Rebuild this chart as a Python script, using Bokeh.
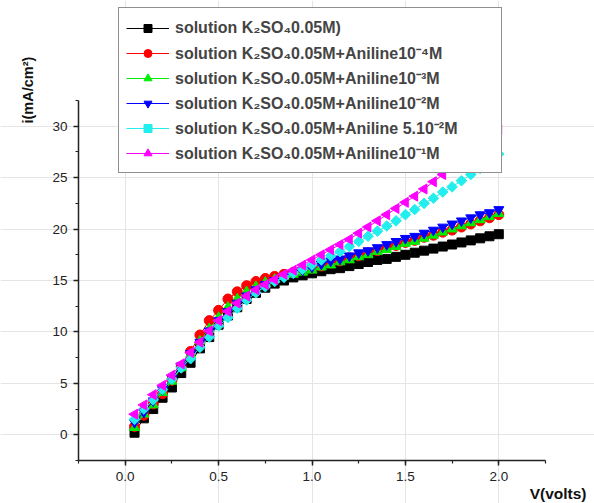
import math
from bokeh.plotting import figure
from bokeh.models import Legend, LegendItem, Label, SingleIntervalTicker, Range1d, LinearAxis
from bokeh.embed import file_html
from bokeh.resources import INLINE

V = [round(0.05 * k, 2) for k in range(1, 41)]

black = [0.2, 1.6, 2.5, 3.6, 4.6, 6.0, 7.0, 8.4, 9.5, 10.7, 11.6, 12.4, 13.2, 13.8, 14.3, 14.7, 15.0, 15.3, 15.5, 15.7,
         15.9, 16.1, 16.2, 16.4, 16.6, 16.8, 17.0, 17.1, 17.3, 17.5, 17.7, 17.9, 18.1, 18.3, 18.5, 18.7, 18.9, 19.1, 19.3, 19.5]
red = [0.8, 1.9, 3.0, 4.0, 5.3, 6.6, 8.1, 9.7, 11.1, 12.1, 13.2, 13.9, 14.5, 14.9, 15.2, 15.4, 15.6, 15.8, 16.0, 16.2,
       16.4, 16.7, 16.9, 17.2, 17.4, 17.7, 17.9, 18.2, 18.4, 18.7, 18.9, 19.2, 19.4, 19.7, 19.9, 20.2, 20.5, 20.8, 21.1, 21.4]
green = [0.7, 2.0, 2.9, 4.1, 5.2, 6.5, 7.8, 9.1, 10.3, 11.4, 12.4, 13.2, 13.9, 14.4, 14.8, 15.1, 15.4, 15.6, 15.8, 16.0,
         16.3, 16.5, 16.8, 17.0, 17.3, 17.5, 17.8, 18.0, 18.3, 18.6, 18.8, 19.1, 19.4, 19.7, 20.0, 20.3, 20.6, 20.9, 21.2, 21.5]
blue = [1.2, 2.2, 3.3, 4.4, 5.5, 6.7, 7.9, 9.0, 10.1, 11.1, 12.0, 12.8, 13.5, 14.1, 14.6, 15.0, 15.4, 15.7, 16.0, 16.3,
        16.6, 16.9, 17.1, 17.4, 17.7, 17.9, 18.2, 18.5, 18.8, 19.1, 19.3, 19.6, 19.9, 20.2, 20.5, 20.8, 21.1, 21.4, 21.6, 21.9]
cyan = [1.5, 2.5, 3.4, 4.4, 5.4, 6.5, 7.4, 8.5, 9.5, 10.6, 11.4, 12.3, 13.1, 13.8, 14.4, 14.9, 15.3, 15.7, 16.1, 16.5,
        17.0, 17.4, 17.8, 18.3, 18.8, 19.3, 19.8, 20.3, 20.8, 21.4, 21.9, 22.5, 23.0, 23.6, 24.1, 24.7, 25.3, 25.9, 26.6, 27.3]
magenta = [2.0, 2.9, 3.9, 4.8, 5.8, 6.9, 8.0, 9.0, 10.1, 11.1, 12.0, 12.8, 13.5, 14.1, 14.6, 15.1, 15.6, 16.0, 16.5, 17.0,
           17.5, 18.0, 18.5, 19.0, 19.6, 20.2, 20.8, 21.4, 22.0, 22.6, 23.2, 23.9, 24.6, 25.3, 26.0, 26.7, 27.4, 28.1, 28.9, 29.7]

labels = [
    "solution K\u2082SO\u20840.05M)",
    "solution K\u2082SO\u20840.05M+Aniline10\u207b\u2074M",
    "solution K\u2082SO\u20840.05M+Aniline10\u207b\u00b3M",
    "solution K\u2082SO\u20840.05M+Aniline10\u207b\u00b2M",
    "solution K\u2082SO\u20840.05M+Aniline 5.10\u207b\u00b2M",
    "solution K\u2082SO\u20840.05M+Aniline10\u207b\u00b9M",
]

series = [black, red, green, blue, cyan, magenta]
colors = ["#000000", "#ff0000", "#00ee00", "#0000ff", "#22eeee", "#ff00ff"]
markers = ["square", "circle", "triangle", "inverted_triangle", "square", "triangle"]
angles = [0, 0, 0, 0, math.pi / 4, math.pi / 2]
sizes = [9, 10, 10, 10, 7.5, 10]

# axis extents and page layout
X_LO, X_HI = -0.25, 2.25
Y_LO, Y_HI = -2.5, 32.5
W, H = 594, 503
FL, FR, FT, FB = 78, 545, 100, 460  # axis box in page pixels
xs = (FR - FL) / (X_HI - X_LO)
ys_ = (FB - FT) / (Y_HI - Y_LO)
xr = Range1d(X_LO - FL / xs, X_HI + (W - FR) / xs)
yr = Range1d(Y_LO - (H - FB) / ys_, Y_HI + FT / ys_)

p = figure(width=W, height=H, output_backend="svg", toolbar_location=None,
           x_range=xr, y_range=yr, x_axis_location=None, y_axis_location=None,
           min_border=0)
p.outline_line_color = None
p.background_fill_color = "white"
p.border_fill_color = "white"

items = []
for ys, c, m, a, s, lab in zip(series, colors, markers, angles, sizes, labels):
    l = p.line(V, ys, line_color=c, line_width=1)
    sc = p.scatter(V, ys, marker=m, angle=a, size=s, fill_color=c, line_color=c)
    items.append(LegendItem(label=lab, renderers=[l, sc]))

xaxis = LinearAxis(fixed_location=Y_LO, bounds=(X_LO, X_HI),
                   ticker=SingleIntervalTicker(interval=0.5, num_minor_ticks=2))
yaxis = LinearAxis(fixed_location=X_LO, bounds=(Y_LO, Y_HI),
                   ticker=SingleIntervalTicker(interval=5, num_minor_ticks=2))
xaxis.major_label_overrides = {0: "0.0", 1: "1.0", 2: "2.0"}
for ax in (xaxis, yaxis):
    ax.axis_line_width = 1.5
    ax.axis_line_color = "#222222"
    ax.major_tick_line_color = "#222222"
    ax.minor_tick_line_color = "#222222"
    ax.major_tick_line_width = 1.5
    ax.minor_tick_line_width = 1.2
    ax.major_tick_in = 0
    ax.major_tick_out = 5
    ax.minor_tick_in = 0
    ax.minor_tick_out = 3
    ax.major_label_text_font = "Liberation Sans"
    ax.major_label_text_font_size = "13.5px"
    ax.major_label_text_color = "#222222"
    ax.major_label_standoff = 6
p.add_layout(xaxis, "below")
p.add_layout(yaxis, "left")

legend = Legend(items=items, location=(118, H - 173), orientation="vertical",
                label_text_font="Liberation Sans", label_text_font_style="bold",
                label_text_font_size="16px", label_height=25, label_width=319,
                glyph_width=43, glyph_height=20, label_standoff=6, padding=7, spacing=0,
                border_line_color="#222222", border_line_width=1.2,
                background_fill_color="white", background_fill_alpha=1.0, margin=0)
p.add_layout(legend, "center")

p.add_layout(Label(x=586, y=10, x_units="screen", y_units="screen", text="V(volts)",
                   text_font="Liberation Sans", text_font_style="bold", text_font_size="15.5px",
                   text_align="right", text_baseline="middle", text_color="#111111"))
p.add_layout(Label(x=27, y=H - 123, x_units="screen", y_units="screen", text="i(mA/cm\u00b2)",
                   angle=math.pi / 2, text_font="Liberation Sans", text_font_style="bold",
                   text_font_size="14.5px", text_align="left", text_baseline="middle",
                   text_color="#111111"))

open("out.html", "w").write(file_html(p, INLINE))
